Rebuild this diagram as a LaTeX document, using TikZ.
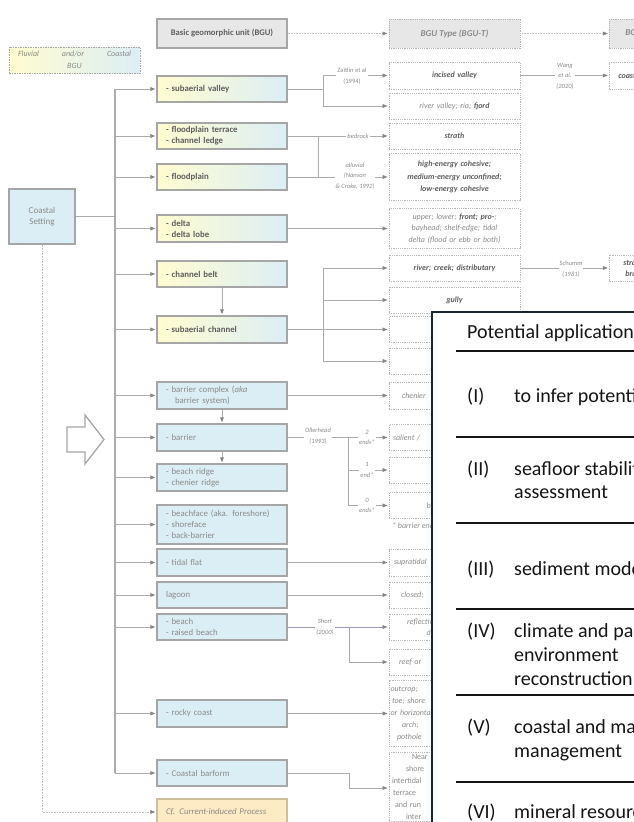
\documentclass[tikz,border=0pt]{standalone}
\usepackage{fontspec}
\setmainfont{Carlito}
\usetikzlibrary{arrows.meta}

\definecolor{boxline}{HTML}{A6A6A6}
\definecolor{linec}{HTML}{ABABAB}
\definecolor{tipc}{HTML}{858585}
\definecolor{txtc}{HTML}{8A8A8A}
\definecolor{txtd}{HTML}{5E5E5E}
\definecolor{yel}{HTML}{FFFCD0}
\definecolor{blu}{HTML}{DCEEF5}
\definecolor{hdr}{HTML}{E7E7E7}
\definecolor{cfill}{HTML}{FDEBC6}
\definecolor{cline}{HTML}{CDBE9E}
\definecolor{purp}{HTML}{9C9CBA}
\definecolor{frame}{HTML}{17262D}
\definecolor{ink}{HTML}{151515}

\tikzset{
  ubox/.style={draw=boxline, line width=1.1pt, minimum width=130pt, text width=112pt,
    inner xsep=9pt, inner ysep=2pt, align=left, text=txtc,
    font=\fontsize{8.8}{11}\selectfont},
  gbox/.style={ubox, left color=yel, right color=blu, text=txtd,
    font=\fontsize{8.8}{11}\selectfont\bfseries},
  bbox/.style={ubox, fill=blu},
  hbox/.style={draw=boxline, line width=1.1pt, fill=hdr, minimum width=130pt,
    minimum height=29pt, text=txtd, font=\fontsize{8.6}{10}\selectfont\bfseries},
  hdash/.style={draw=boxline!85, line width=0.6pt, dash pattern=on 1.2pt off 1pt,
    fill=hdr, minimum width=131pt, minimum height=29pt, text=txtc,
    font=\fontsize{9}{10}\selectfont\bfseries\itshape},
  tbox/.style={draw=boxline!80, line width=0.6pt, dash pattern=on 1.2pt off 1pt,
    fill=white, minimum width=131pt, text width=125pt, inner xsep=3pt, inner ysep=2pt,
    align=center, text=txtc, font=\fontsize{8}{12}\selectfont\itshape},
  tbold/.style={tbox, text=txtd, font=\fontsize{8}{12.5}\selectfont\bfseries\itshape},
  ltxt/.style={align=left, text width=128pt, inner xsep=1.5pt},
  ln/.style={draw=linec, line width=0.8pt},
  trunkline/.style={draw=linec, line width=1.4pt},
  arr/.style={ln, -{Triangle[length=5pt,width=3.8pt,color=tipc]}, shorten >=1.2pt},
  dotl/.style={draw=linec!75, line width=0.6pt, dash pattern=on 0.8pt off 0.8pt},
  lbl/.style={fill=white, inner sep=1pt, align=center, text=txtc,
    font=\fontsize{6.5}{10.5}\selectfont\itshape},
  pline/.style={anchor=base west, inner sep=0pt, text=ink, font=\fontsize{20}{24}\selectfont},
  prule/.style={draw=ink, line width=2.3pt}
}

\begin{document}
\begin{tikzpicture}[x=1pt,y=-1pt]
\useasboundingbox (0,0) rectangle (634,822);
\clip (0,0) rectangle (634,822);

% legend and headers
\node[draw=boxline, line width=0.6pt, dash pattern=on 1.5pt off 1pt,
      left color=yel, right color=blu, minimum width=131pt, minimum height=26pt,
      align=center, inner sep=1pt, text=txtc, font=\fontsize{8}{12.3}\selectfont\itshape]
      (leg) at (74.5,60) {\makebox[113pt][s]{Fluvial and/or Coastal}\\BGU};
\node[hbox] (bgu) at (222,33.5) {Basic geomorphic unit (BGU)};
\node[hdash] (bgut) at (454.5,33.5) {BGU Type (BGU-T)};
\node[hdash, ltxt, anchor=west] (bgust) at (609,33.5) {\hspace*{14.5pt}BGU Sub-type};

% coastal setting
\node[bbox, minimum width=66pt, text width=60pt, inner xsep=3pt, align=center,
      minimum height=55pt, font=\fontsize{9}{11.7}\selectfont] (cs) at (42,216.5) {Coastal\\Setting};

% basic geomorphic units
\node[gbox, minimum height=26pt] (sv)  at (222,89)    {- subaerial valley};
\node[gbox, minimum height=26pt] (fpt) at (222,136)   {- floodplain terrace\\- channel ledge};
\node[gbox, minimum height=26pt] (fp)  at (222,177)   {- floodplain};
\node[gbox, minimum height=27pt] (delta) at (222,228.5) {- delta\\- delta lobe};
\node[gbox, minimum height=26pt] (cb)  at (222,274)   {- channel belt};
\node[gbox, minimum height=27pt] (sc)  at (222,329.5) {- subaerial channel};
\node[bbox, minimum height=27pt] (bc)  at (222,395.5) {- barrier complex (\textit{aka}\\\hspace*{9pt}barrier system)};
\node[bbox, minimum height=27pt] (bar) at (222,437.5) {- barrier};
\node[bbox, minimum height=27pt] (br)  at (222,477.5) {- beach ridge\\- chenier ridge};
\node[bbox, minimum height=39pt] (bf)  at (222,524.5) {- beachface (aka. foreshore)\\- shoreface\\- back-barrier};
\node[bbox, minimum height=27pt] (tf)  at (222,562.5) {- tidal flat};
\node[bbox, minimum height=26pt] (lag) at (222,595)   {lagoon};
\node[bbox, minimum height=26pt] (bea) at (222,627)   {- beach\\- raised beach};
\node[bbox, minimum height=27pt] (rc)  at (222,713.5) {- rocky coast};
\node[bbox, minimum height=26pt] (cbf) at (222,773)   {- Coastal barform};
\node[ubox, fill=cfill, draw=cline, minimum height=26pt, text=txtc!90!brown,
      font=\fontsize{8.8}{11}\selectfont\itshape] (cf) at (222,812) {Cf. Current-induced Process};

% BGU types
\node[tbold, minimum height=27pt] (iv) at (454.5,75.5) {incised valley};
\node[tbox, minimum height=26pt] (rv) at (454.5,106) {river valley; ria; \textbf{\color{txtd}fjord}};
\node[tbold, minimum height=26pt] (st) at (454.5,136) {strath};
\node[tbold, minimum height=47pt, font=\fontsize{8}{12.7}\selectfont\bfseries\itshape] (he) at (454.5,177)
     {high-energy cohesive;\\medium-energy unconfined;\\low-energy cohesive};
\node[tbox, minimum height=40pt, font=\fontsize{8}{11.7}\selectfont\itshape] (dt) at (454.5,228.5)
     {upper; lower; \textbf{\color{txtd}front; pro-};\\bayhead; shelf-edge; tidal\\delta (flood or ebb or both)};
\node[tbold, minimum height=26pt] (rcd) at (454.5,268) {river; creek; distributary};
\node[tbold, minimum height=26pt] (gu) at (454.5,300) {gully};
\node[tbox, minimum height=26pt] (x1) at (454.5,329.5) {};
\node[tbox, minimum height=26pt] (x2) at (454.5,361) {};
\node[tbox, ltxt, minimum height=27pt] (ch) at (454.5,395.5) {\hspace*{11.5pt}chenier};
\node[tbox, ltxt, minimum height=26pt] (sal) at (454.5,437.5) {\hspace*{2.5pt}salient /};
\node[tbox, minimum height=26pt] (e1) at (454.5,470) {};
\node[tbox, ltxt, minimum height=26pt] (e0) at (454.5,505.5) {\hspace*{36pt}b};
\node[anchor=west, inner sep=0pt, text=txtc, font=\fontsize{8}{10}\selectfont\itshape] (note) at (392,526) {* barrier ends};
\node[tbox, ltxt, minimum height=27pt] (sup) at (454.5,562.5) {\hspace*{3.5pt}supratidal};
\node[tbox, ltxt, minimum height=26pt] (clo) at (454.5,595) {\hspace*{10.5pt}closed;};
\node[tbox, ltxt, minimum height=26pt, font=\fontsize{8}{11}\selectfont\itshape] (ref) at (454.5,627)
     {\hspace*{16.5pt}reflective\\\hspace*{36pt}d};
\node[tbox, ltxt, minimum height=26pt] (reef) at (454.5,662) {\hspace*{8.5pt}reef {\upshape or}};
\node[tbox, ltxt, minimum height=66pt] (out) at (454.5,713.5)
     {outcrop;\\\hspace*{1.5pt}toe; shore\\or horizontal\\\hspace*{11.5pt}arch;\\\hspace*{6.5pt}pothole};
\node[tbox, ltxt, anchor=north, font=\fontsize{8}{12}\selectfont] (near) at (454.5,752)
     {\hspace*{21.5pt}Near\\\hspace*{15.5pt}shore\\\hspace*{1.5pt}intertidal\\\hspace*{2.5pt}terrace\\\hspace*{4.5pt}and run\\\hspace*{15.5pt}inter};

% BGU sub-types
\node[tbold, ltxt, anchor=west, minimum height=27pt] (coa) at (609,75.5) {\hspace*{7.5pt}coastal};
\node[tbold, ltxt, anchor=west, minimum height=26pt, font=\fontsize{8}{11}\selectfont\bfseries\itshape] (sb) at (609,268)
     {\hspace*{12.5pt}straight\\\hspace*{14.5pt}braided};

% header links
\draw[dotl, -{Triangle[length=5pt,width=3.8pt,color=tipc]}, shorten >=1.2pt] (bgu.east) -- (bgut.west);
\draw[dotl, -{Triangle[length=5pt,width=3.8pt,color=tipc]}, shorten >=1.2pt] (bgut.east) -- (bgust.west);

% trunk from the coastal setting
\coordinate (tx) at (115,0);
\draw[ln] (cs.east) -- (cs.east -| tx);
\draw[trunkline] (tx |- sv.west) -- (tx |- cbf.west);
\foreach \b in {sv,fpt,fp,delta,cb,sc,bc,bar,br,bf,tf,lag,bea,rc,cbf}
  \draw[arr] (tx |- \b.west) -- (\b.west);
\draw[dotl, -{Triangle[length=5pt,width=3.8pt,color=tipc]}, shorten >=1.2pt] (cs.south) |- (cf.west);

% hierarchy within the units
\draw[arr] (cb.south) -- (sc.north);
\draw[arr] (bc.south) -- (bar.north);
\draw[arr] (bar.south) -- (br.north);

% valley branches
\coordinate (s1) at (323,0);
\draw[ln] (sv.east) -- (s1 |- sv.east);
\draw[ln] (s1 |- iv.west) -- (s1 |- rv.west);
\draw[arr] (s1 |- iv.west) -- (iv.west);
\draw[arr] (s1 |- rv.west) -- (rv.west);
\node[lbl, font=\fontsize{6.5}{10.5}\selectfont] (lz) at (352,76) {Zaitlin et al\\(1994)};
\draw[arr] (iv.east) -- (coa.west);
\node[lbl] (lw) at (565,76) {Wang\\et al.\\(2020)};

% floodplain branches
\coordinate (s2) at (318,0);
\draw[ln] (fpt.east) -- (s2 |- fpt.east);
\draw[ln] (fp.east) -- (s2 |- fp.east);
\draw[ln] (s2 |- fpt.east) -- (s2 |- fp.east);
\draw[arr] (s2 |- st.west) -- (st.west);
\draw[arr] (s2 |- he.west) -- (he.west);
\node[lbl] (lb) at (358,136) {bedrock};
\node[lbl] (la) at (355,176) {alluvial\\(Nanson\\\& Croke, 1992)};

% delta
\draw[arr] (delta.east) -- (dt.west);

% channel branches
\coordinate (s3) at (323,0);
\draw[ln] (sc.east) -- (s3 |- sc.east);
\draw[ln] (s3 |- rcd.west) -- (s3 |- x2.west);
\foreach \b in {rcd,gu,x1,x2}
  \draw[arr] (s3 |- \b.west) -- (\b.west);
\draw[arr] (rcd.east) -- (sb.west);
\node[lbl] (ls) at (571,269) {{\upshape Schumm}\\(1981)};

% barrier complex
\draw[arr] (bc.east) -- (ch.west);

% barrier branches
\coordinate (s4) at (348,0);
\draw[ln] (bar.east) -- (s4 |- bar.east) -- (s4 |- e0.west);
\foreach \b in {sal,e1,e0}
  \draw[arr] (s4 |- \b.west) -- (\b.west);
\node[lbl] (lo) at (318,436) {Ollerhead\\(1993)};
\node[lbl] (l2) at (367,437.5) {2\\ends*};
\node[lbl] (l1) at (367,470) {1\\end*};
\node[lbl] (l0) at (367,505.5) {0\\ends*};

% tidal flat, lagoon
\draw[arr] (tf.east) -- (sup.west);
\draw[arr] (lag.east) -- (clo.west);

% beach branches
\coordinate (s5) at (349,0);
\draw[ln, draw=purp, -{Triangle[length=5pt,width=3.8pt,color=tipc]}, shorten >=1.2pt] (bea.east) -- (ref.west);
\draw[arr] (s5 |- bea.east) |- (reef.west);
\node[lbl] (lsh) at (325,627) {Short\\(2000)};

% rocky coast, barform
\draw[arr] (rc.east) -- (out.west);
\coordinate (nb) at (349,788);
\draw[arr] (cbf.east) -| (nb) -- (nb -| near.west);

% open block arrow
\draw[draw=boxline, line width=1.3pt, fill=white, line join=miter]
  (67,427) -- (85,427) -- (85,415) -- (104,439.5) -- (85,464) -- (85,452) -- (67,452) -- cycle;

% applications panel
\node[draw=frame, line width=2pt, fill=white, anchor=north west,
      minimum width=300pt, minimum height=600pt] (pa) at (431,311) {};
\node[pline] (pt) at (467,338) {Potential applications};
\draw[prule, line width=2.6pt] (456,351) -- (700,351);
\node[pline] (n1) at (467,402) {(I)};
\node[pline] (t1) at (514,402) {to infer potential};
\draw[prule] (456,437) -- (700,437);
\node[pline] (n2) at (467,475) {(II)};
\node[pline] (t2a) at (514,475) {seafloor stability};
\node[pline] (t2b) at (514,498) {assessment};
\draw[prule] (456,523) -- (700,523);
\node[pline] (n3) at (467,575) {(III)};
\node[pline] (t3) at (514,575) {sediment modelling};
\draw[prule] (456,609) -- (700,609);
\node[pline] (n4) at (467,637) {(IV)};
\node[pline] (t4a) at (514,637) {climate and palaeo-};
\node[pline] (t4b) at (514,661) {environment};
\node[pline] (t4c) at (514,685) {reconstruction};
\draw[prule] (456,695) -- (700,695);
\node[pline] (n5) at (467,733) {(V)};
\node[pline] (t5a) at (514,733) {coastal and marine};
\node[pline] (t5b) at (514,757) {management};
\draw[prule] (456,782) -- (700,782);
\node[pline] (n6) at (467,818) {(VI)};
\node[pline] (t6) at (514,818) {mineral resources};
\end{tikzpicture}
\end{document}
